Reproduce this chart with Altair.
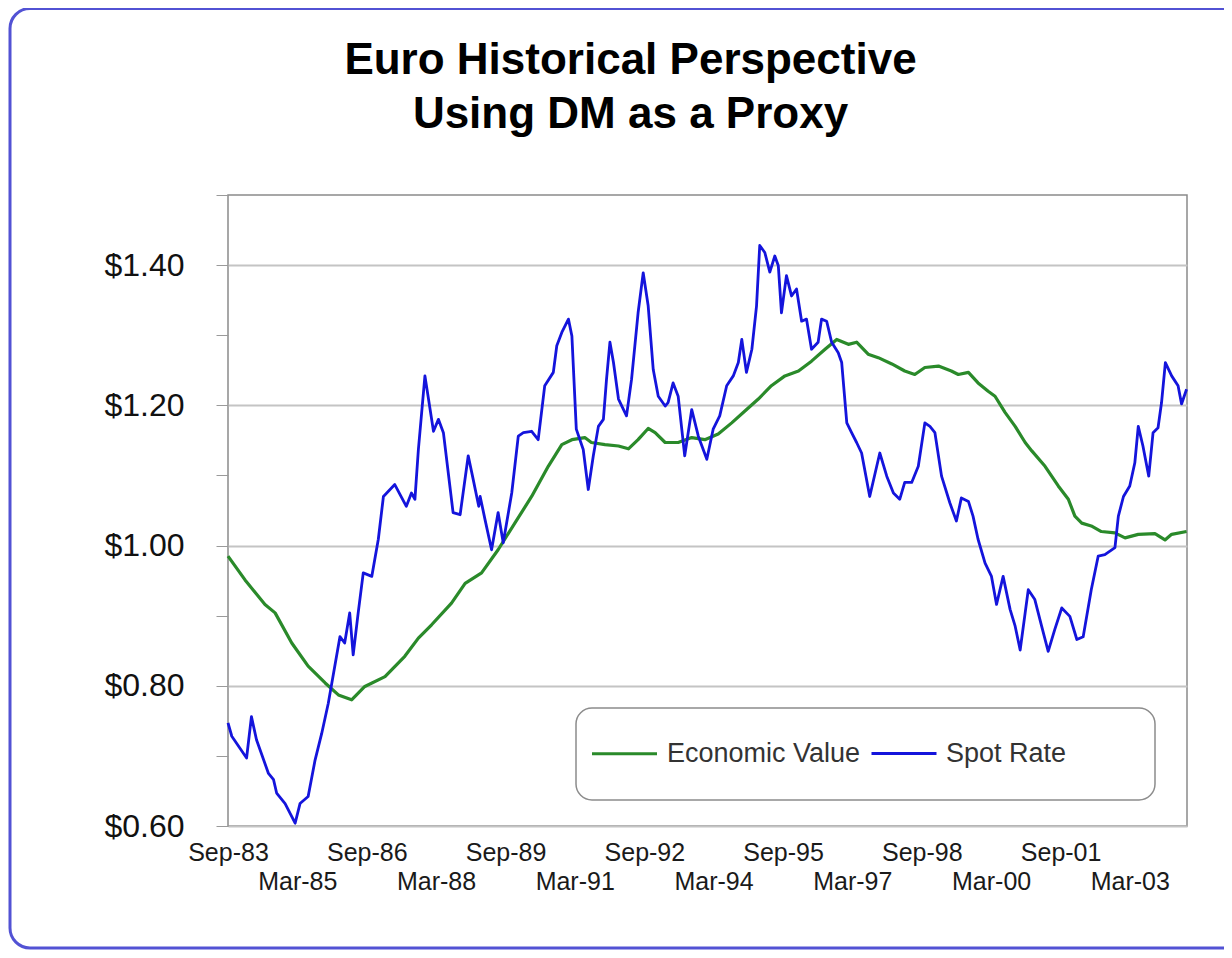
import altair as alt
import pandas as pd

# ---- data (month offset from Sep-1983, value in USD) ----
spot_month = [0, 1, 4.8, 6.1, 7.4, 10.5, 11.8, 12.6, 14.8, 17.4, 18.7, 20.8, 22.6, 24.3, 26,
              29, 30.3, 31.6, 32.5, 33.8, 35.1, 37.3, 39, 40.3, 43.3, 46.3, 47.6, 48.5, 49.4,
              51.1, 53.3, 54.6, 55.9, 58.4, 60.2, 62.3, 63.6, 65, 65.4, 66.7, 68.4, 70.1,
              71.4, 73.6, 75.3, 76.6, 78.8, 80.5, 82.2, 84.4, 85.3, 86.6, 88.3, 89.2, 90.4,
              92.2, 93.5, 94.8, 96.1, 97.4, 98.2, 99.1, 100, 101.3, 103.4, 104.7, 106.4,
              107.7, 109, 110.3, 111.6, 113.4, 114.2, 115.5, 116.8, 118.5, 120.3, 122, 124.2,
              125.9, 127.6, 129.4, 131.1, 132.4, 133.3, 134.5, 135.9, 137.1, 138, 139.3,
              140.6, 141.9, 142.8, 143.6, 144.9, 146.2, 147.5, 148.8, 150.1, 151.4, 153.1,
              154, 155.3, 156.6, 158.3, 159.2, 160.5, 161.8, 163.1, 164.4, 166.5, 169.1,
              170.9, 172.6, 174.3, 175.6, 177.4, 179.1, 180.8, 182.1, 183.4, 185.1, 187.3,
              189, 190.3, 192.1, 193.3, 194.6, 196.4, 198.1, 199.4, 201.1, 202.9, 204.2,
              205.5, 206.8, 207.6, 209.3, 211.1, 212.8, 214.5, 216.3, 218.4, 220.2, 221.9,
              224, 225.8, 227.5, 230.1, 231, 232.3, 234, 235.3, 236.2, 237.4, 238.9, 240,
              241.3, 242.2, 243.2, 244.8, 246.5, 247.4, 248.7]
spot_value = [0.747, 0.728, 0.697, 0.756, 0.723, 0.675, 0.666, 0.647, 0.632, 0.604, 0.632,
              0.642, 0.694, 0.732, 0.775, 0.870, 0.861, 0.904, 0.844, 0.904, 0.961, 0.956,
              1.009, 1.070, 1.087, 1.056, 1.075, 1.066, 1.137, 1.242, 1.163, 1.180, 1.161,
              1.047, 1.044, 1.128, 1.094, 1.056, 1.070, 1.037, 0.994, 1.047, 1.004, 1.075,
              1.156, 1.161, 1.163, 1.151, 1.228, 1.247, 1.285, 1.304, 1.323, 1.299, 1.166,
              1.137, 1.080, 1.128, 1.170, 1.180, 1.237, 1.290, 1.261, 1.209, 1.185, 1.237,
              1.332, 1.389, 1.342, 1.251, 1.213, 1.199, 1.204, 1.232, 1.213, 1.128, 1.194,
              1.156, 1.123, 1.166, 1.185, 1.228, 1.242, 1.261, 1.294, 1.247, 1.280, 1.342,
              1.428, 1.418, 1.390, 1.413, 1.399, 1.332, 1.385, 1.356, 1.366, 1.320, 1.323,
              1.280, 1.290, 1.323, 1.320, 1.290, 1.275, 1.261, 1.175, 1.161, 1.147, 1.132,
              1.070, 1.132, 1.099, 1.075, 1.066, 1.090, 1.090, 1.113, 1.175, 1.170, 1.161,
              1.099, 1.061, 1.035, 1.068, 1.063, 1.042, 1.009, 0.975, 0.956, 0.916, 0.956,
              0.909, 0.885, 0.851, 0.904, 0.937, 0.923, 0.885, 0.849, 0.880, 0.911, 0.899,
              0.866, 0.870, 0.937, 0.985, 0.987, 0.997, 1.042, 1.070, 1.085, 1.118, 1.170,
              1.142, 1.099, 1.161, 1.168, 1.204, 1.261, 1.242, 1.228, 1.202, 1.223]

econ_month = [0, 4.4, 9.6, 12.2, 16.5, 20.8, 25.2, 28.6, 32.1, 35.5, 40.7, 45.9, 49.4, 52.8,
              58, 61.5, 65.8, 70.1, 74.4, 78.8, 83.1, 86.6, 89.2, 92.6, 94.3, 97.8, 101.3,
              103.9, 106.4, 109, 110.8, 113.4, 116.8, 120.3, 123.7, 127.2, 130.7, 134.1,
              137.6, 141, 144.5, 148, 151.4, 154.9, 157.9, 160.9, 163.1, 166.1, 168.7, 172.2,
              175.6, 178.2, 180.8, 184.3, 187.7, 189.5, 192.1, 194.6, 197.2, 199, 201.6,
              204.2, 206.8, 208.5, 212, 215.4, 218, 219.7, 221.5, 224, 226.6, 230.1, 232.7,
              236.2, 240.5, 243.1, 244.8, 248.7]
econ_value = [0.985, 0.951, 0.916, 0.904, 0.861, 0.828, 0.804, 0.787, 0.780, 0.799, 0.813,
              0.842, 0.868, 0.887, 0.918, 0.946, 0.961, 0.994, 1.032, 1.070, 1.113, 1.144,
              1.151, 1.154, 1.147, 1.144, 1.142, 1.138, 1.151, 1.167, 1.161, 1.147, 1.147,
              1.154, 1.151, 1.159, 1.175, 1.192, 1.209, 1.228, 1.242, 1.249, 1.263, 1.280,
              1.294, 1.287, 1.290, 1.273, 1.268, 1.259, 1.249, 1.244, 1.254, 1.256, 1.249,
              1.244, 1.247, 1.232, 1.220, 1.213, 1.190, 1.170, 1.147, 1.135, 1.113, 1.085,
              1.066, 1.042, 1.032, 1.028, 1.020, 1.018, 1.011, 1.016, 1.017, 1.008, 1.016,
              1.020]

series_names = ["Economic Value", "Spot Rate"]
series_colors = ["#2a8a2a", "#1414dc"]
series_widths = [3.2, 2.8]

x_tick_labels = ["Sep-83", "Mar-85", "Sep-86", "Mar-88", "Sep-89", "Mar-91", "Sep-92",
                 "Mar-94", "Sep-95", "Mar-97", "Sep-98", "Mar-00", "Sep-01", "Mar-03"]
y_ticks = [0.6, 0.7, 0.8, 0.9, 1.0, 1.1, 1.2, 1.3, 1.4, 1.5]

BASE = pd.Timestamp(1983, 9, 1)


def to_date(m):
    whole = int(m)
    frac = m - whole
    d0 = BASE + pd.DateOffset(months=whole)
    d1 = BASE + pd.DateOffset(months=whole + 1)
    return (d0 + (d1 - d0) * frac).strftime("%Y-%m-%dT%H:%M:%S")


rows = []
for m, v in zip(econ_month, econ_value):
    rows.append({"date": to_date(m), "value": v, "series": series_names[0]})
for m, v in zip(spot_month, spot_value):
    rows.append({"date": to_date(m), "value": v, "series": series_names[1]})
df = pd.DataFrame(rows)

tick_dates = []
for lab in x_tick_labels:
    t = pd.to_datetime(lab, format="%b-%y")
    tick_dates.append(alt.DateTime(year=t.year, month=t.month, date=1))

FONT = "Liberation Sans"

x_axis = alt.Axis(
    values=tick_dates,
    labelExpr="timeFormat(datum.value, '%b-%y')",
    title=None, grid=False, ticks=False, domain=False, tickSize=0,
    labelFont=FONT, labelFontSize=25, labelColor="#1a1a1a",
    labelBaseline="top", labelAlign="center", labelOverlap=False, labelFlush=False,
    labelPadding={"condition": {"test": "month(datum.value) == 2", "value": 43},
                  "value": 14},
)

y_axis = alt.Axis(
    values=y_ticks,
    labelExpr="(round(datum.value*10) % 2 == 0 && datum.value < 1.45) ? '$' + format(datum.value, '.2f') : ''",
    title=None, domain=False,
    ticks=True, tickSize=12, tickColor="#9a9a9a", tickWidth=1,
    grid=True, gridColor="#c4c4c4", gridWidth=2,
    gridOpacity={"condition": {"test": "round(datum.value*10) % 2 == 1", "value": 0},
                 "value": 1},
    labelFont=FONT, labelFontSize=32, labelColor="#111111", labelPadding=32,
)

lines = alt.Chart(df).mark_line(strokeJoin="round").encode(
    x=alt.X("date:T",
            scale=alt.Scale(domain=[alt.DateTime(year=1983, month=9, date=1),
                                    alt.DateTime(year=2004, month=5, date=26)]),
            axis=x_axis),
    y=alt.Y("value:Q", scale=alt.Scale(domain=[0.6, 1.5], nice=False, zero=False),
            axis=y_axis),
    color=alt.Color("series:N",
                    scale=alt.Scale(domain=series_names, range=series_colors),
                    legend=alt.Legend(
                        orient="none", legendX=362, legendY=524, direction="horizontal",
                        title=None, symbolType="stroke", symbolSize=4225,
                        symbolStrokeWidth=3, labelFont=FONT, labelFontSize=27,
                        labelColor="#333333", labelOffset=8, columnPadding=4,
                        labelLimit=500, padding=0)),
    strokeWidth=alt.StrokeWidth("series:N",
                                scale=alt.Scale(domain=series_names, range=series_widths),
                                legend=None),
)

one = pd.DataFrame({"k": [0]})

frame = alt.Chart(one).mark_rect(
    fill=None, stroke="#5252d4", strokeWidth=3, cornerRadius=20
).encode(x=alt.value(-218), x2=alt.value(1030), y=alt.value(-186.5), y2=alt.value(753))

legend_box = alt.Chart(one).mark_rect(
    fill="white", stroke="#8c8c8c", strokeWidth=1.5, cornerRadius=16
).encode(x=alt.value(348), x2=alt.value(927), y=alt.value(513), y2=alt.value(605))

chart = alt.layer(frame, legend_box, lines).properties(
    width=959, height=631,
    autosize=alt.AutoSizeParams(type="none"),
    padding={"left": 220, "top": 187, "right": 37, "bottom": 124},
    background="white",
    title=alt.TitleParams(
        text=["Euro Historical Perspective", "Using DM as a Proxy"],
        font=FONT, fontSize=44, fontWeight="bold", color="#000000",
        anchor="middle", frame="group", dx=-77, offset=-130, lineHeight=54,
    ),
).configure_view(stroke="#8a8a8a", strokeWidth=1.5)

chart.save("out.html", embed_options={"renderer": "svg", "actions": False})
